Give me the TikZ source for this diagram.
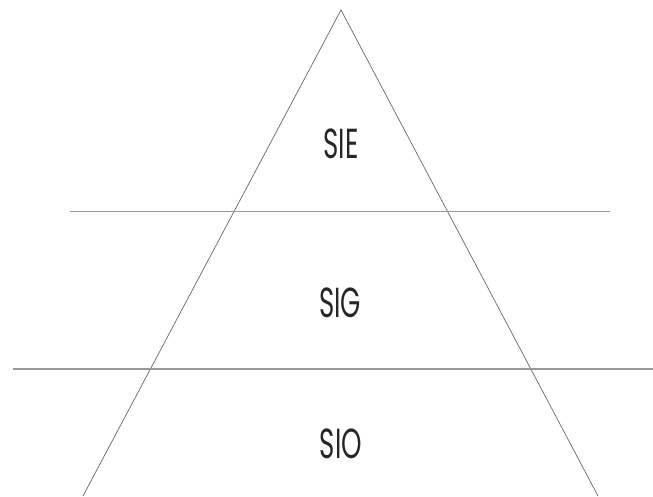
\documentclass[tikz,border=0pt]{standalone}
\usepackage{fontspec}
\setmainfont{Poppins}
\begin{document}
\begin{tikzpicture}[x=1pt,y=-1pt,
  edge/.style={draw=black!60, line width=0.7pt},
  divider/.style={draw=black!40, line width=1.1pt},
  label/.style={text=black!85, font=\fontsize{42}{44}\selectfont, xscale=0.62, inner sep=0pt, anchor=center}]
\useasboundingbox (0,0) rectangle (653,496);
\coordinate (apex) at (341,10);
\coordinate (bl) at (83,496);
\coordinate (br) at (598,496);
\coordinate (d1l) at (70,211.5);
\coordinate (d1r) at (610,211.5);
\coordinate (d2l) at (13,369);
\coordinate (d2r) at (653,369);
\draw[edge] (bl) -- (apex) -- (br);
\draw[divider] (d1l) -- (d1r);
\draw[divider] (d2l) -- (d2r);
\node[label] (sie) at (341,144) {SIE};
\node[label] (sig) at (340,303) {SIG};
\node[label] (sio) at (341,444) {SIO};
\end{tikzpicture}
\end{document}
